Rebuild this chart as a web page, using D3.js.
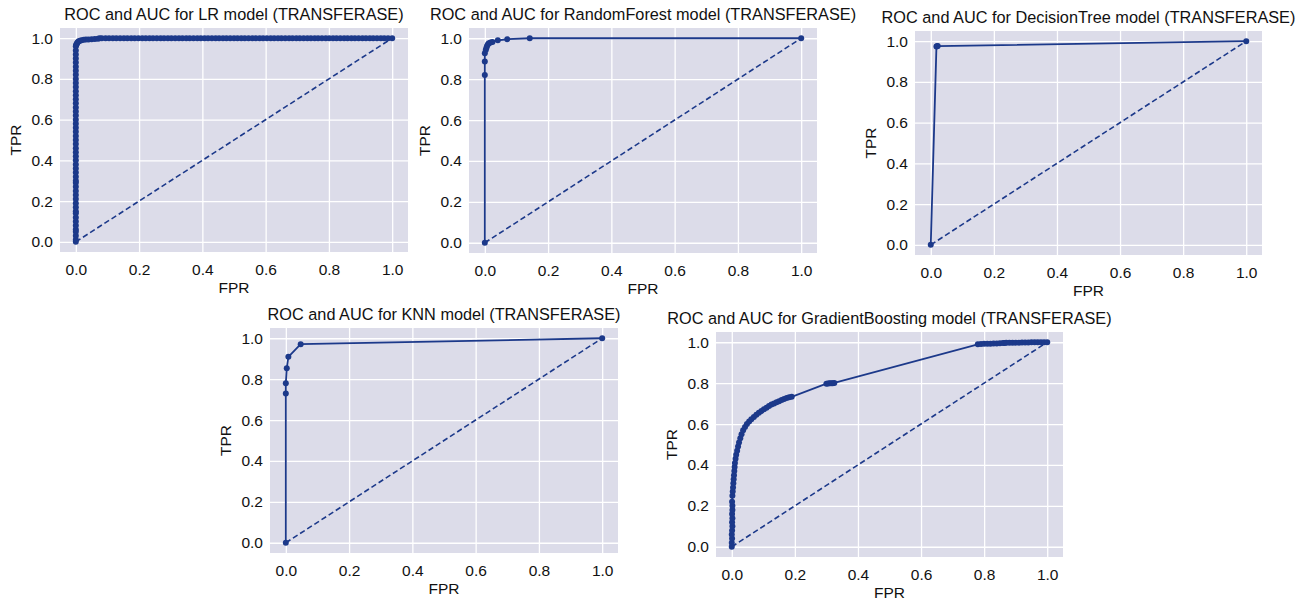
<!DOCTYPE html>
<html>
<head>
<meta charset="utf-8">
<script src="https://cdn.jsdelivr.net/npm/d3@7"></script>
<style>
  body { margin: 0; background: #ffffff; }
  svg text { font-family: "Liberation Sans", Arial, sans-serif; fill: #111111; }
</style>
</head>
<body>
<svg class="chart"></svg>
<script>
//
// Five ROC curves (TRANSFERASE), one panel per model.
//

var tickValues = [0, 0.2, 0.4, 0.6, 0.8, 1.0]; // Tick labels on both axes.

// LR: dense threshold points form a thick band.
var lrFpr = [0, 0, 0, 0, 0, 0, 0, 0, 0, 0, 0, 0, 0, 0, 0, 0, 0, 0, 0, 0, 0, 0, 0, 0, 0, 0, 0, 0, 0, 0, 0, 0, 0, 0, 0, 0, 0, 0, 0, 0, 0, 0, 0, 0, 0, 0, 0, 0, 0, 0, 0,
    0.001, 0.002, 0.004, 0.006, 0.009, 0.013, 0.018, 0.025, 0.032, 0.04, 0.05, 0.06, 0.07, 0.075,
    0.082, 0.094, 0.105, 0.117, 0.128, 0.14, 0.152, 0.163, 0.175, 0.186, 0.198, 0.21, 0.221, 0.233, 0.244, 0.256, 0.268, 0.279, 0.291, 0.302,
    0.314, 0.326, 0.337, 0.349, 0.36, 0.372, 0.384, 0.395, 0.407, 0.418, 0.43, 0.442, 0.453, 0.465, 0.476, 0.488, 0.5, 0.511, 0.523, 0.534,
    0.546, 0.558, 0.569, 0.581, 0.592, 0.604, 0.616, 0.627, 0.639, 0.65, 0.662, 0.674, 0.685, 0.697, 0.708, 0.72, 0.732, 0.743, 0.755, 0.766,
    0.778, 0.79, 0.801, 0.813, 0.824, 0.836, 0.848, 0.859, 0.871, 0.882, 0.894, 0.906, 0.917, 0.929, 0.94, 0.952, 0.964, 0.975, 0.987, 1.0];
var lrTpr = [0, 0.01, 0.03, 0.05, 0.06, 0.08, 0.1, 0.12, 0.14, 0.15, 0.17, 0.19, 0.21, 0.23, 0.25, 0.27, 0.29, 0.3, 0.32, 0.34, 0.36, 0.38, 0.4, 0.42, 0.44, 0.46, 0.48, 0.5, 0.52, 0.54, 0.56, 0.58, 0.6, 0.62, 0.64, 0.66, 0.68, 0.7, 0.72, 0.74, 0.76, 0.78, 0.8, 0.82, 0.84, 0.86, 0.88, 0.9, 0.92, 0.94, 0.96,
    0.965, 0.97, 0.975, 0.98, 0.985, 0.988, 0.99, 0.992, 0.993, 0.994, 0.995, 0.996, 0.997, 1.0,
    1, 1, 1, 1, 1, 1, 1, 1, 1, 1, 1, 1, 1, 1, 1, 1, 1, 1, 1, 1,
    1, 1, 1, 1, 1, 1, 1, 1, 1, 1, 1, 1, 1, 1, 1, 1, 1, 1, 1, 1,
    1, 1, 1, 1, 1, 1, 1, 1, 1, 1, 1, 1, 1, 1, 1, 1, 1, 1, 1, 1,
    1, 1, 1, 1, 1, 1, 1, 1, 1, 1, 1, 1, 1, 1, 1, 1, 1, 1, 1, 1];

var rfFpr = [0, 0, 0, 0, 0.003, 0.005, 0.007, 0.01, 0.013, 0.018, 0.024, 0.041, 0.071, 0.142, 1];
var rfTpr = [0, 0.82, 0.886, 0.927, 0.943, 0.952, 0.962, 0.97, 0.975, 0.979, 0.982, 0.99, 0.995, 1, 1];

var dtFpr = [0, 0.018, 0.02, 0.022, 1];
var dtTpr = [0, 0.974, 0.975, 0.976, 1];

var knnFpr = [0, 0, 0, 0.003, 0.008, 0.047, 1];
var knnTpr = [0, 0.73, 0.78, 0.853, 0.909, 0.971, 1];

var gbFpr = [0, 0, 0.001, 0, 0.001, 0.002, 0.001, 0.002, 0.001, 0.002, 0.002, 0.001, 0.002,
    0.003, 0.004, 0.005, 0.006, 0.007, 0.008, 0.009, 0.01, 0.012, 0.014, 0.017, 0.02, 0.023, 0.027, 0.031, 0.036, 0.042, 0.048,
    0.055, 0.062, 0.07, 0.078, 0.086, 0.094, 0.102, 0.11, 0.118, 0.126, 0.134, 0.142, 0.15, 0.158, 0.166, 0.174, 0.182, 0.19,
    0.3, 0.305, 0.31, 0.315, 0.32, 0.325,
    0.78, 0.79, 0.8, 0.81, 0.82, 0.83, 0.84, 0.85, 0.86, 0.865, 0.87, 0.88, 0.89, 0.9, 0.91, 0.92, 0.93, 0.94, 0.95, 0.96, 0.97, 0.98, 0.99, 1.0];
var gbTpr = [0, 0.02, 0.04, 0.06, 0.08, 0.1, 0.12, 0.14, 0.16, 0.18, 0.2, 0.22, 0.25,
    0.27, 0.29, 0.31, 0.33, 0.35, 0.37, 0.39, 0.41, 0.43, 0.45, 0.47, 0.49, 0.51, 0.53, 0.55, 0.57, 0.585, 0.6,
    0.612, 0.623, 0.634, 0.645, 0.655, 0.664, 0.672, 0.68, 0.688, 0.695, 0.701, 0.707, 0.712, 0.717, 0.722, 0.727, 0.731, 0.733,
    0.797, 0.798, 0.799, 0.8, 0.8, 0.801,
    0.99, 0.991, 0.992, 0.993, 0.993, 0.994, 0.994, 0.995, 0.996, 0.996, 0.997, 0.997, 0.998, 0.998, 0.998, 0.999, 0.999, 0.999, 1, 1, 1, 1, 1, 1];

var models = ["LR", "RandomForest", "DecisionTree", "KNN", "GradientBoosting"];
var fprSeries = [lrFpr, rfFpr, dtFpr, knnFpr, gbFpr];
var tprSeries = [lrTpr, rfTpr, dtTpr, knnTpr, gbTpr];

var boxes = [ // Plot area of each panel (left, top, right, bottom) in pixels.
    [60, 28, 408, 252],
    [469, 28, 817, 253],
    [915, 31, 1262, 255],
    [270, 328, 618, 553],
    [716, 332, 1063, 557]
];

var lineColor = "#1c398a";

var svgElement = d3.select("svg.chart")
    .attr("width", 1306)
    .attr("height", 601);

function drawPanel (index) {
    var box = boxes[index];
    var points = fprSeries[index].map(function (f, i) { return [f, tprSeries[index][i]]; });

    var x = d3.scaleLinear().domain([-0.05, 1.05]).range([box[0], box[2]]);
    var y = d3.scaleLinear().domain([-0.05, 1.05]).range([box[3], box[1]]);

    var g = svgElement.append("g");

    g.append("rect") // Seaborn style background.
        .attr("x", box[0])
        .attr("y", box[1])
        .attr("width", box[2] - box[0])
        .attr("height", box[3] - box[1])
        .attr("fill", "#dcdce9");

    var xAxis = g.append("g") // Grid lines come from the axis with full length ticks.
        .attr("transform", "translate(0," + box[3] + ")")
        .call(d3.axisBottom(x).tickValues(tickValues).tickSize(-(box[3] - box[1])).tickPadding(7).tickFormat(d3.format(".1f")));
    var yAxis = g.append("g")
        .attr("transform", "translate(" + box[0] + ",0)")
        .call(d3.axisLeft(y).tickValues(tickValues).tickSize(-(box[2] - box[0])).tickPadding(7).tickFormat(d3.format(".1f")));

    [xAxis, yAxis].forEach(function (axis) {
        axis.select(".domain").remove();
        axis.selectAll(".tick line").attr("stroke", "#ffffff").attr("stroke-width", 1.3);
        axis.selectAll(".tick text").attr("font-size", 15.5).attr("fill", "#111111");
    });
    xAxis.selectAll(".tick text").attr("dy", "1.0em");

    g.append("line") // Chance diagonal.
        .attr("x1", x(0)).attr("y1", y(0))
        .attr("x2", x(1)).attr("y2", y(1))
        .attr("stroke", lineColor)
        .attr("stroke-width", 1.6)
        .attr("stroke-dasharray", "5.5,3");

    g.append("path")
        .datum(points)
        .attr("fill", "none")
        .attr("stroke", lineColor)
        .attr("stroke-width", 1.8)
        .attr("d", d3.line().x(function (d) { return x(d[0]); }).y(function (d) { return y(d[1]); }));

    g.selectAll("circle.pt")
        .data(points)
        .enter()
        .append("circle")
            .attr("class", "pt")
            .attr("cx", function (d) { return x(d[0]); })
            .attr("cy", function (d) { return y(d[1]); })
            .attr("r", 3)
            .attr("fill", lineColor);

    var cx = (box[0] + box[2]) / 2;

    g.append("text")
        .attr("x", cx)
        .attr("y", box[1] - 8)
        .attr("text-anchor", "middle")
        .attr("font-size", 16.3)
        .text("ROC and AUC for " + models[index] + " model (TRANSFERASE)");

    g.append("text")
        .attr("x", cx)
        .attr("y", box[3] + 41)
        .attr("text-anchor", "middle")
        .attr("font-size", 15.5)
        .text("FPR");

    g.append("text")
        .attr("transform", "translate(" + (box[0] - 39) + "," + ((box[1] + box[3]) / 2) + ") rotate(-90)")
        .attr("text-anchor", "middle")
        .attr("font-size", 15.5)
        .text("TPR");
}

models.forEach(function (m, i) { drawPanel(i); });
</script>
</body>
</html>
